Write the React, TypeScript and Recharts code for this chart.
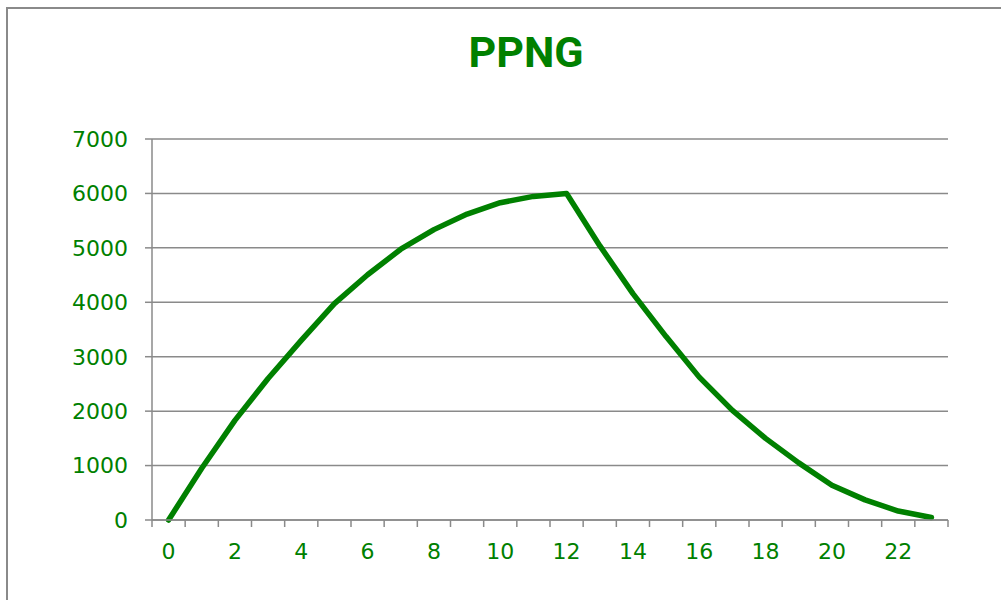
import React from 'react';
import { LineChart, Line, XAxis, YAxis, CartesianGrid } from 'recharts';

const hours = [0, 1, 2, 3, 4, 5, 6, 7, 8, 9, 10, 11, 12, 13, 14, 15, 16, 17, 18, 19, 20, 21, 22, 23];
const ppngValues = [
  0, 950, 1830, 2600, 3300, 3975, 4505, 4975, 5335, 5620, 5830, 5945,
  6000, 5040, 4160, 3370, 2625, 2015, 1500, 1050, 640, 370, 165, 45,
];
const yTicks = [0, 1000, 2000, 3000, 4000, 5000, 6000, 7000];
const xLabels = [0, 2, 4, 6, 8, 10, 12, 14, 16, 18, 20, 22];

const GREEN = '#008000';
const GRAY = '#8a8a8a';
const FONT = '"DejaVu Sans", sans-serif';

const data = hours.map((h, i) => ({ hour: h, ppng: ppngValues[i] }));

// tick marks sit between categories, labels on every second category
const tickMarks = [...hours.map((h) => h - 0.5), hours[hours.length - 1] + 0.5];
const xTicks = [...tickMarks, ...xLabels].sort((a, b) => a - b);

function XTick(props: any) {
  const { x, y, payload } = props;
  const v = payload.value;
  if (!Number.isInteger(v)) {
    return <line x1={x} x2={x} y1={y} y2={y + 7} stroke={GRAY} strokeWidth={1.5} />;
  }
  return (
    <text x={x} y={y + 39} textAnchor="middle" fill={GREEN} fontSize={22} fontFamily={FONT}>
      {v}
    </text>
  );
}

export default function App() {
  return (
    <div style={{ position: 'relative', width: 1001, height: 600, overflow: 'hidden', background: '#fff' }}>
      <style>{'body{margin:0}'}</style>
      <div
        style={{
          position: 'absolute',
          left: 6,
          top: 7,
          width: 1200,
          height: 800,
          border: `2px solid ${GRAY}`,
        }}
      />
      <div
        style={{
          position: 'absolute',
          left: 0,
          top: 31,
          width: 1052,
          textAlign: 'center',
          fontFamily: 'Roboto, sans-serif',
          fontWeight: 700,
          fontSize: 43,
          lineHeight: 1,
          color: GREEN,
        }}
      >
        PPNG
      </div>
      <div style={{ position: 'absolute', left: 0, top: 0 }}>
        <LineChart width={1001} height={600} data={data} margin={{ top: 139, right: 53, bottom: 40, left: 92 }}>
          <CartesianGrid vertical={false} stroke={GRAY} strokeWidth={1.5} />
          <XAxis
            dataKey="hour"
            type="number"
            domain={[-0.5, 23.5]}
            ticks={xTicks}
            interval={0}
            tick={<XTick />}
            tickLine={false}
            tickSize={0}
            tickMargin={0}
            height={40}
            stroke={GRAY}
            strokeWidth={1.5}
          />
          <YAxis
            domain={[0, 7000]}
            ticks={yTicks}
            interval={0}
            width={60}
            tickSize={7}
            tickMargin={17}
            stroke={GRAY}
            strokeWidth={1.5}
            tick={{ fill: GREEN, fontSize: 22, fontFamily: FONT }}
          />
          <Line
            type="linear"
            dataKey="ppng"
            stroke={GREEN}
            strokeWidth={5.5}
            strokeLinecap="round"
            strokeLinejoin="round"
            dot={false}
            activeDot={false}
            isAnimationActive={false}
          />
        </LineChart>
      </div>
    </div>
  );
}
